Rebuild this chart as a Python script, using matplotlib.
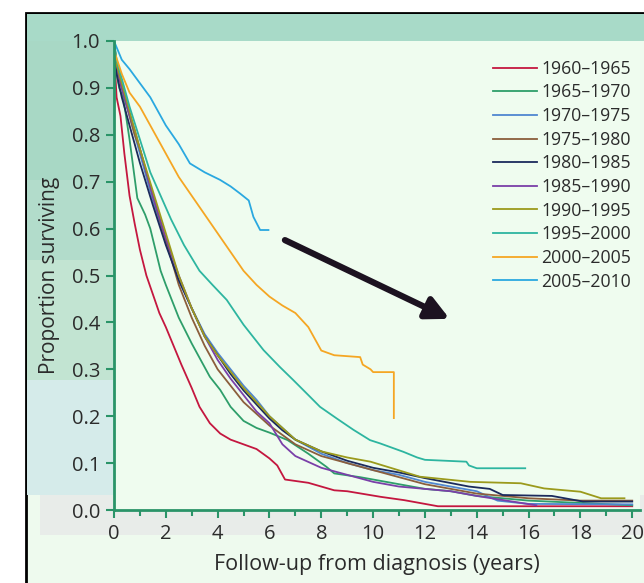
import matplotlib.pyplot as plt
from matplotlib.patches import Rectangle

W, H = 644, 583

plt.rcParams['font.family'] = ['Open Sans', 'DejaVu Sans']

periods = ["1960–1965", "1965–1970", "1970–1975", "1975–1980", "1980–1985",
           "1985–1990", "1990–1995", "1995–2000", "2000–2005", "2005–2010"]
colors = ["#c4173f", "#2e9e6a", "#4f86d0", "#8b5e3c", "#1b2a5c",
          "#7a3fa8", "#9b9a1c", "#2db5a0", "#f5a623", "#2aa8e0"]

# survival curves (years, proportion surviving)
t_1960 = [0, 0.05, 0.1, 0.25, 0.4, 0.6, 0.8, 1.0, 1.25, 1.5, 1.75, 2.0, 2.3, 2.6, 3.0, 3.3, 3.7, 4.1, 4.5,
          5.0, 5.5, 6.0, 6.3, 6.6, 7.5, 8.0, 8.5, 9.0, 10.3, 11.2, 12.5, 20.0]
s_1960 = [1.0, 0.93, 0.88, 0.84, 0.76, 0.67, 0.61, 0.555, 0.50, 0.46, 0.42, 0.39, 0.35, 0.31, 0.26, 0.22, 0.185,
          0.163, 0.15, 0.14, 0.13, 0.11, 0.095, 0.065, 0.058, 0.05, 0.042, 0.04, 0.028, 0.021, 0.008, 0.008]

t_1965 = [0, 0.1, 0.2, 0.36, 0.6, 0.9, 1.2, 1.4, 1.8, 2.0, 2.5, 3.0, 3.7, 4.1, 4.5, 5.0, 5.5, 6.0, 6.7, 7.5,
          8.2, 8.5, 9.5, 10.5, 12.0, 13.0, 14.0, 16.0, 18.0, 20.0]
s_1965 = [1.0, 0.93, 0.90, 0.878, 0.79, 0.665, 0.63, 0.60, 0.51, 0.48, 0.41, 0.355, 0.284, 0.256, 0.22, 0.19,
          0.175, 0.165, 0.149, 0.12, 0.092, 0.078, 0.07, 0.06, 0.045, 0.04, 0.03, 0.02, 0.015, 0.01]

t_1970 = [0, 0.1, 0.3, 0.5, 0.8, 1.0, 1.5, 2.0, 2.5, 3.0, 3.5, 4.0, 4.5, 5.0, 5.5, 6.0, 6.5, 7.0, 8.0, 9.0,
          10.0, 11.0, 12.0, 13.0, 14.0, 14.8, 16.0, 20.0]
s_1970 = [1.0, 0.95, 0.90, 0.86, 0.80, 0.76, 0.66, 0.57, 0.49, 0.43, 0.375, 0.335, 0.30, 0.265, 0.235, 0.20,
          0.175, 0.15, 0.12, 0.10, 0.085, 0.075, 0.06, 0.05, 0.04, 0.02, 0.013, 0.012]

t_1975 = [0, 0.1, 0.3, 0.5, 0.8, 1.0, 1.5, 2.0, 2.5, 3.0, 3.5, 4.0, 4.5, 5.0, 5.5, 6.0, 6.5, 7.0, 8.0, 9.0,
          10.0, 11.0, 12.0, 13.0, 14.0, 15.0, 16.0, 18.0, 20.0]
s_1975 = [1.0, 0.94, 0.90, 0.86, 0.80, 0.77, 0.67, 0.575, 0.48, 0.41, 0.35, 0.30, 0.265, 0.23, 0.205, 0.18,
          0.16, 0.14, 0.115, 0.10, 0.085, 0.07, 0.055, 0.045, 0.035, 0.03, 0.025, 0.02, 0.02]

t_1980 = [0, 0.1, 0.3, 0.5, 0.8, 1.0, 1.5, 2.0, 2.5, 3.0, 3.5, 4.0, 4.5, 5.0, 5.5, 6.0, 6.5, 7.0, 8.0, 9.0,
          10.0, 11.0, 12.0, 13.7, 14.5, 15.0, 16.9, 18.1, 20.0]
s_1980 = [1.0, 0.93, 0.88, 0.84, 0.78, 0.74, 0.65, 0.565, 0.49, 0.43, 0.37, 0.33, 0.29, 0.255, 0.225, 0.195,
          0.17, 0.15, 0.125, 0.105, 0.09, 0.08, 0.068, 0.05, 0.045, 0.032, 0.03, 0.018, 0.018]

t_1985 = [0, 0.1, 0.3, 0.5, 0.8, 1.0, 1.5, 2.0, 2.5, 3.0, 3.5, 4.0, 4.5, 5.0, 5.5, 6.0, 6.5, 7.0, 8.0, 9.0,
          10.0, 11.0, 12.0, 13.0, 14.0, 16.3]
s_1985 = [1.0, 0.95, 0.90, 0.86, 0.81, 0.77, 0.67, 0.58, 0.50, 0.43, 0.37, 0.32, 0.28, 0.245, 0.21, 0.185,
          0.14, 0.115, 0.09, 0.075, 0.06, 0.05, 0.045, 0.04, 0.03, 0.01]

t_1990 = [0, 0.1, 0.3, 0.5, 0.8, 1.0, 1.5, 2.0, 2.5, 3.0, 3.5, 4.0, 4.5, 5.0, 5.5, 6.0, 6.5, 7.0, 8.0, 9.0,
          9.9, 11.8, 13.75, 15.7, 16.6, 18.0, 18.8, 19.7]
s_1990 = [1.0, 0.95, 0.91, 0.87, 0.81, 0.77, 0.68, 0.59, 0.50, 0.43, 0.37, 0.33, 0.295, 0.26, 0.23, 0.20,
          0.175, 0.15, 0.125, 0.112, 0.103, 0.071, 0.06, 0.057, 0.046, 0.039, 0.025, 0.025]

t_1995 = [0, 0.1, 0.3, 0.6, 1.0, 1.4, 1.8, 2.2, 2.7, 3.3, 3.8, 4.35, 5.0, 5.77, 6.4, 6.92, 7.5, 7.95, 8.6,
          9.24, 9.88, 10.27, 11.17, 11.7, 12.0, 13.6, 13.7, 14.0, 15.87]
s_1995 = [1.0, 0.96, 0.92, 0.86, 0.79, 0.72, 0.67, 0.62, 0.565, 0.51, 0.48, 0.448, 0.395, 0.341, 0.305,
          0.277, 0.245, 0.22, 0.195, 0.171, 0.149, 0.142, 0.124, 0.112, 0.107, 0.103, 0.095, 0.089, 0.089]

t_2000 = [0, 0.3, 0.6, 1.0, 1.5, 2.0, 2.5, 3.0, 3.5, 4.0, 4.5, 5.0, 5.5, 6.0, 6.5, 7.0, 7.5, 8.0, 8.5, 9.5,
          9.6, 9.9, 10.0, 10.8, 10.8]
s_2000 = [0.98, 0.93, 0.89, 0.86, 0.81, 0.76, 0.71, 0.67, 0.63, 0.59, 0.55, 0.51, 0.48, 0.455, 0.436, 0.42,
          0.39, 0.34, 0.33, 0.326, 0.31, 0.30, 0.294, 0.294, 0.196]

t_2005 = [0, 0.3, 0.6, 1.0, 1.4, 2.0, 2.5, 2.93, 3.5, 4.09, 4.5, 4.86, 5.2, 5.38, 5.64, 5.96]
s_2005 = [1.0, 0.96, 0.94, 0.91, 0.88, 0.82, 0.78, 0.739, 0.72, 0.704, 0.69, 0.675, 0.66, 0.625, 0.597, 0.597]

times = [t_1960, t_1965, t_1970, t_1975, t_1980, t_1985, t_1990, t_1995, t_2000, t_2005]
surv = [s_1960, s_1965, s_1970, s_1975, s_1980, s_1985, s_1990, s_1995, s_2000, s_2005]

y_ticks = [0.0, 0.1, 0.2, 0.3, 0.4, 0.5, 0.6, 0.7, 0.8, 0.9, 1.0]
x_ticks = [0, 2, 4, 6, 8, 10, 12, 14, 16, 18, 20]

green = "#2a9468"
text_col = "#2b2b2b"

fig = plt.figure(figsize=(W / 100, H / 100), dpi=100, facecolor="white")


def px_box(x0, y0, x1, y1, color, z, edge="none", lw=0):
    # box given in image pixels (origin top-left)
    fig.add_artist(Rectangle((x0 / W, 1 - y1 / H), (x1 - x0) / W, (y1 - y0) / H,
                             transform=fig.transFigure, facecolor=color,
                             edgecolor=edge, linewidth=lw, zorder=z))


# framed panel with tinted bands
px_box(26, 13, 660, 600, "#eefaee", -3, edge="black", lw=2)
px_box(27, 14, 644, 41, "#a8dac8", -2)
px_box(27, 41, 114, 180, "#a8d8c5", -2)
px_box(27, 180, 114, 260, "#b2dccb", -2)
px_box(27, 260, 114, 380, "#c2e4d2", -2)
px_box(27, 380, 114, 495, "#d5ebea", -2)
px_box(40, 495, 644, 535, "#e8ece9", -2)

ax = fig.add_axes([114 / W, 1 - 510 / H, (640 - 114) / W, (510 - 41) / H])
ax.set_facecolor("#effcef")

for t, s, c, lab in zip(times, surv, colors, periods):
    ax.plot(t, s, color=c, lw=1.3, label=lab)

ax.annotate("", xy=(13.05, 0.405), xytext=(6.5, 0.578),
            arrowprops=dict(arrowstyle="-|>", lw=4.5, color="#1c1220", mutation_scale=34))

ax.set_xlim(0, 20.3)
ax.set_ylim(0, 1.0)
ax.set_yticks(y_ticks)
ax.set_yticklabels([f"{v:.1f}" for v in y_ticks])
ax.set_xticks(x_ticks)
ax.set_xticks(range(1, 20, 2), minor=True)

for side in ["top", "right"]:
    ax.spines[side].set_visible(False)
for side in ["left", "bottom"]:
    ax.spines[side].set_color(green)
    ax.spines[side].set_linewidth(2)

ax.tick_params(axis="both", which="major", color=green, labelcolor=text_col,
               width=1.5, length=6, labelsize=14.5, pad=4)
ax.tick_params(axis="x", which="minor", color=green, width=1.5, length=4)

ax.set_ylabel("Proportion surviving", fontsize=15, color=text_col, labelpad=8)
ax.set_xlabel("Follow-up from diagnosis (years)", fontsize=15.5, color=text_col, labelpad=7)

ax.legend(loc="upper left", bbox_to_anchor=(0.72, 0.96), frameon=False,
          fontsize=12.7, handlelength=2.5, handletextpad=0.25, labelspacing=0.32,
          borderpad=0, borderaxespad=0, labelcolor=text_col)

fig.savefig("out.png", dpi=100)
